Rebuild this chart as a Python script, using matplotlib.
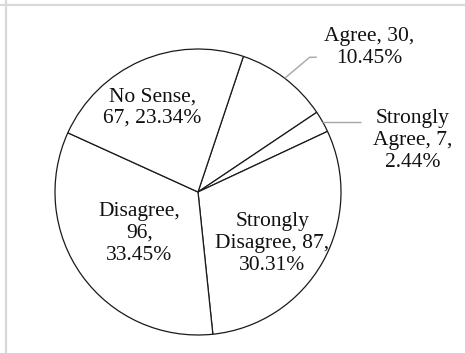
import numpy as np
import matplotlib
matplotlib.use("Agg")
import matplotlib.pyplot as plt
from matplotlib.lines import Line2D

plt.rcParams['font.family'] = ['Liberation Serif', 'DejaVu Serif']

# data (clockwise from the top)
names = ["Agree", "Strongly Agree", "Strongly Disagree", "Disagree", "No Sense"]
counts = [30, 7, 87, 96, 67]
# how each label is split over lines
label_fmt = [
    "Agree, {c},\n{p:.2f}%",
    "Strongly\nAgree, {c},\n{p:.2f}%",
    "Strongly\nDisagree, {c},\n{p:.2f}%",
    "Disagree,\n{c},\n{p:.2f}%",
    "No Sense,\n{c}, {p:.2f}%",
]

W, H = 465, 353
R = 143.0          # pie radius in pixels
cx, cy = 198, 192  # pie centre in image pixels (y down)

fig = plt.figure(figsize=(W / 100, H / 100), dpi=100)
ax = fig.add_axes([0, 0, 1, 1])

wedges, _ = ax.pie(counts, startangle=71.5, counterclock=False,
                   colors=["white"] * len(counts),
                   wedgeprops=dict(edgecolor="#1a1a1a", linewidth=0.9))

ax.set_xlim(-cx / R, (W - cx) / R)
ax.set_ylim(-(H - cy) / R, cy / R)
ax.set_aspect("equal", adjustable="box")
ax.axis("off")

total = sum(counts)
labels = [f.format(c=c, p=c / total * 100) for f, c in zip(label_fmt, counts)]

# label positions relative to the pie centre, in radius units
label_pos = [(1.20, 1.01), (1.50, 0.36), (0.52, -0.36), (-0.41, -0.29), (-0.32, 0.59)]

for txt, (lx, ly) in zip(labels, label_pos):
    ax.text(lx, ly, txt, ha="center", va="center", fontsize=15.5,
            color="#111111", linespacing=1.2)

def edge_point(w):
    a = np.deg2rad((w.theta1 + w.theta2) / 2)
    return np.cos(a), np.sin(a)

# Agree leader: elbow line
x0, y0 = edge_point(wedges[0])
ax.plot([x0, x0 + 0.175, x0 + 0.225], [y0, y0 + 0.147, y0 + 0.147],
        color="#a6a6a6", lw=1.0, solid_capstyle="butt")
# Strongly Agree leader: straight line
x1, y1 = edge_point(wedges[1])
ax.plot([x1, x1 + 0.27], [y1, y1], color="#a6a6a6", lw=1.0,
        solid_capstyle="butt")

# light frame on top and left
fig.add_artist(Line2D([0, 1], [1 - 4.5 / H] * 2, transform=fig.transFigure,
                      color="#d9d9d9", lw=1.6))
fig.add_artist(Line2D([5.5 / W] * 2, [0, 1], transform=fig.transFigure,
                      color="#d9d9d9", lw=1.6))

fig.savefig("out.png", dpi=100)
